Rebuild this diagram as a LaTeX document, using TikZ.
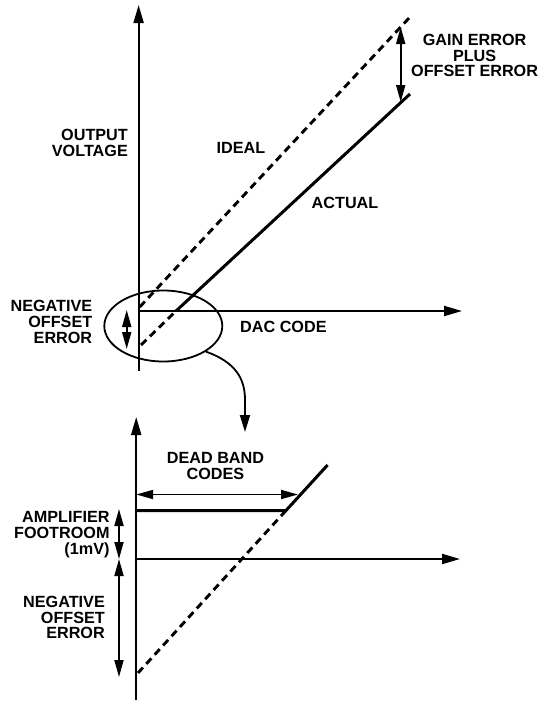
\documentclass[tikz,border=0pt]{standalone}
\usepackage{fontspec}
\setmainfont{Liberation Sans}
\usetikzlibrary{positioning, calc, shapes.geometric, arrows.meta}

\begin{document}
\begin{tikzpicture}[x=1pt, y=-1pt,
    txt/.style={font=\bfseries\fontsize{16.2}{15.8}\selectfont, inner sep=0pt, align=center},
    axis/.style={line width=2pt, -{Triangle[length=18pt, width=10pt]}},
    span/.style={line width=1.8pt, {Triangle[length=17pt, width=9pt]}-{Triangle[length=17pt, width=9pt]}},
    ideal/.style={line width=2.9pt, dash pattern=on 7.5pt off 5pt},
    actual/.style={line width=3pt}]

    \useasboundingbox (0, 0) rectangle (539, 702);

    % upper plot
    \coordinate (o1) at (138.6, 311);
    \coordinate (y1bot) at (138.6, 371);
    \coordinate (y1top) at (138.6, 5);
    \coordinate (x1end) at (462, 311);
    \coordinate (idealLo) at (139.7, 307);
    \coordinate (idealHi) at (410, 17);
    \coordinate (actualLo) at (141, 345);
    \coordinate (actualCross) at (176, 311);
    \coordinate (actualHi) at (410, 94);
    \coordinate (gainTop) at (400.7, 27);
    \coordinate (gainBot) at (400.7, 102);
    \coordinate (offTop) at (126.7, 310);
    \coordinate (offBot) at (126.7, 349);

    \draw[axis] (y1bot) -- (y1top);
    \draw[axis] (o1) -- (x1end);
    \draw[ideal] (idealLo) -- (idealHi);
    \draw[ideal] (actualLo) -- (actualCross);
    \draw[actual] (actualCross) -- (actualHi);
    \draw[span] (gainTop) -- (gainBot);
    \draw[span] (offTop) -- (offBot);

    \node[txt, anchor=east, align=right] (outLbl) at (128, 143) {OUTPUT\\VOLTAGE};
    \node[txt] (idealLbl) at (241, 148) {IDEAL};
    \node[txt] (actualLbl) at (345, 203) {ACTUAL};
    \node[txt] (gainLbl) at (474.6, 55.5) {GAIN ERROR\\PLUS\\OFFSET ERROR};
    \node[txt, anchor=east, align=right] (negLbl) at (92.4, 322) {NEGATIVE\\OFFSET\\ERROR};
    \node[txt] (dacLbl) at (283.4, 327) {DAC CODE};

    % zoom ring and pointer
    \node[draw, ellipse, line width=1.8pt, minimum width=118pt, minimum height=71pt, inner sep=0pt] (zoomRing) at (163.3, 326) {};
    \coordinate (dropTip) at (245, 432);
    \draw[line width=1.8pt, -{Triangle[length=17pt, width=10pt]}] (zoomRing.-31) .. controls (235, 362) and (245, 378) .. (245, 400) -- (dropTip);

    % lower plot
    \coordinate (o2) at (136.2, 559);
    \coordinate (y2bot) at (136.2, 700);
    \coordinate (y2top) at (136.2, 417);
    \coordinate (x2end) at (460, 559);
    \coordinate (floorL) at (136.2, 510.5);
    \coordinate (knee) at (286, 510.5);
    \coordinate (rampHi) at (327.6, 465);
    \coordinate (rampLo) at (138, 673);
    \coordinate (bandL) at (136.2, 494.5);
    \coordinate (bandR) at (298, 494.5);
    \coordinate (footTop) at (119, 509);
    \coordinate (footMid) at (119, 559);
    \coordinate (negBot) at (119, 677);

    \draw[axis] (y2bot) -- (y2top);
    \draw[axis] (o2) -- (x2end);
    \draw[actual] (floorL) -- (knee) -- (rampHi);
    \draw[ideal] (knee) -- (rampLo);
    \draw[span] (bandL) -- (bandR);
    \draw[span] (footTop) -- (footMid);
    \draw[span] (footMid) -- (negBot);

    \node[txt] (deadLbl) at (215.5, 466) {DEAD BAND\\CODES};
    \node[txt, anchor=east, align=right] (footLbl) at (109.7, 534.5) {AMPLIFIER\\FOOTROOM\\(1mV)};
    \node[txt, anchor=east, align=right] (neg2Lbl) at (105, 617.5) {NEGATIVE\\OFFSET\\ERROR};

\end{tikzpicture}
\end{document}
